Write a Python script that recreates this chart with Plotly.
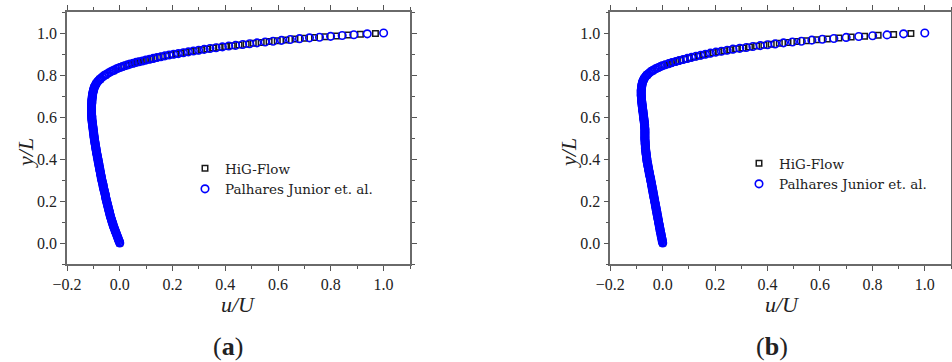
import plotly.graph_objects as go

# ---------------- Panel (a) ----------------
u_a_pal = [1.000, 0.938, 0.887, 0.843, 0.799, 0.757, 0.719, 0.681, 0.646, 0.613,
           0.581, 0.551, 0.520, 0.492, 0.466, 0.439, 0.413, 0.389, 0.365, 0.342,
           0.320, 0.299, 0.279, 0.260, 0.241, 0.222, 0.204, 0.187, 0.171, 0.156,
           0.141, 0.127, 0.113, 0.099, 0.086, 0.073, 0.062, 0.051, 0.039, 0.029,
           0.019, 0.010, 0.001,
           -0.007, -0.014, -0.021, -0.027, -0.035, -0.042, -0.049, -0.055, -0.061, -0.066,
           -0.071, -0.075, -0.079, -0.083, -0.086, -0.089, -0.091, -0.093, -0.095, -0.097,
           -0.098, -0.099, -0.100, -0.101,
           -0.102, -0.103, -0.103, -0.104, -0.104, -0.105, -0.105, -0.106, -0.106, -0.106,
           -0.106, -0.107, -0.107, -0.107, -0.107, -0.107, -0.107, -0.107, -0.107, -0.107,
           -0.107, -0.107, -0.106, -0.106, -0.106, -0.106, -0.105, -0.105, -0.104, -0.104,
           -0.103, -0.103, -0.102, -0.102, -0.101, -0.101, -0.100, -0.100, -0.099, -0.099,
           -0.098, -0.098, -0.097, -0.097, -0.096, -0.096, -0.095, -0.094, -0.094, -0.093,
           -0.092, -0.092, -0.091, -0.090, -0.090, -0.089, -0.088, -0.088, -0.087, -0.086,
           -0.085, -0.085, -0.084, -0.083, -0.082, -0.082, -0.081, -0.080, -0.079, -0.079,
           -0.078, -0.077, -0.076, -0.076, -0.075, -0.074, -0.073, -0.073, -0.072, -0.071,
           -0.070, -0.070, -0.069, -0.068, -0.067, -0.066, -0.065, -0.064, -0.063, -0.063,
           -0.062, -0.061, -0.060, -0.059, -0.058, -0.057, -0.056, -0.055, -0.054, -0.054,
           -0.053, -0.052, -0.051, -0.050, -0.049, -0.048, -0.047, -0.046, -0.045, -0.044,
           -0.043, -0.042, -0.041, -0.040, -0.039, -0.038, -0.037, -0.036, -0.035, -0.034,
           -0.032, -0.031, -0.030, -0.029, -0.027, -0.026, -0.025, -0.024, -0.022, -0.021,
           -0.019, -0.018, -0.016, -0.015, -0.013, -0.012, -0.010, -0.009, -0.007, -0.006,
           -0.004, -0.003, -0.001, 0.000]
y_a_pal = [1.000, 0.996, 0.992, 0.988, 0.984, 0.980, 0.977, 0.973, 0.969, 0.965,
           0.961, 0.957, 0.953, 0.949, 0.945, 0.941, 0.938, 0.934, 0.930, 0.926,
           0.922, 0.918, 0.914, 0.910, 0.906, 0.902, 0.899, 0.895, 0.891, 0.887,
           0.883, 0.879, 0.875, 0.871, 0.867, 0.863, 0.860, 0.856, 0.852, 0.848,
           0.844, 0.840, 0.836,
           0.832, 0.828, 0.824, 0.820, 0.815, 0.810, 0.805, 0.800, 0.795, 0.790,
           0.785, 0.780, 0.775, 0.770, 0.765, 0.760, 0.755, 0.750, 0.745, 0.740,
           0.735, 0.730, 0.725, 0.720,
           0.715, 0.710, 0.705, 0.700, 0.695, 0.690, 0.685, 0.680, 0.675, 0.670,
           0.665, 0.660, 0.655, 0.650, 0.645, 0.640, 0.635, 0.630, 0.625, 0.620,
           0.615, 0.610, 0.605, 0.600, 0.595, 0.590, 0.585, 0.580, 0.575, 0.570,
           0.565, 0.560, 0.555, 0.550, 0.545, 0.540, 0.535, 0.530, 0.525, 0.520,
           0.515, 0.510, 0.505, 0.500, 0.495, 0.490, 0.485, 0.480, 0.475, 0.470,
           0.465, 0.460, 0.455, 0.450, 0.445, 0.440, 0.435, 0.430, 0.425, 0.420,
           0.415, 0.410, 0.405, 0.400, 0.395, 0.390, 0.385, 0.380, 0.375, 0.370,
           0.365, 0.360, 0.355, 0.350, 0.345, 0.340, 0.335, 0.330, 0.325, 0.320,
           0.315, 0.310, 0.305, 0.300, 0.295, 0.290, 0.285, 0.280, 0.275, 0.270,
           0.265, 0.260, 0.255, 0.250, 0.245, 0.240, 0.235, 0.230, 0.225, 0.220,
           0.215, 0.210, 0.205, 0.200, 0.195, 0.190, 0.185, 0.180, 0.175, 0.170,
           0.165, 0.160, 0.155, 0.150, 0.145, 0.140, 0.135, 0.130, 0.125, 0.120,
           0.115, 0.110, 0.105, 0.100, 0.095, 0.090, 0.085, 0.080, 0.075, 0.070,
           0.065, 0.060, 0.055, 0.050, 0.045, 0.040, 0.035, 0.030, 0.025, 0.020,
           0.015, 0.010, 0.005, 0.000]

u_a_hig = [0.969, 0.912, 0.865, 0.821, 0.778, 0.738, 0.700, 0.664, 0.630, 0.597,
           0.566, 0.536, 0.506, 0.479, 0.452, 0.426, 0.401, 0.377, 0.354, 0.331,
           0.310, 0.289, 0.270, 0.251, 0.232, 0.213, 0.196, 0.179, 0.164, 0.149,
           0.134, 0.120, 0.106, 0.093, 0.080, 0.068, 0.057, 0.045, 0.034, 0.024,
           0.015, 0.006,
           -0.025, -0.055, -0.075, -0.089, -0.097, -0.101, -0.104, -0.107, -0.107, -0.105,
           -0.101, -0.097, -0.092, -0.086, -0.080, -0.074, -0.068, -0.061, -0.054, -0.046,
           -0.038, -0.029, -0.018, -0.006, 0.000]
y_a_hig = [0.998, 0.994, 0.990, 0.986, 0.982, 0.978, 0.975, 0.971, 0.967, 0.963,
           0.959, 0.955, 0.951, 0.947, 0.943, 0.939, 0.936, 0.932, 0.928, 0.924,
           0.920, 0.916, 0.912, 0.908, 0.904, 0.900, 0.897, 0.893, 0.889, 0.885,
           0.881, 0.877, 0.873, 0.869, 0.865, 0.861, 0.858, 0.854, 0.850, 0.846,
           0.842, 0.838,
           0.820, 0.800, 0.780, 0.760, 0.740, 0.720, 0.700, 0.660, 0.620, 0.580,
           0.540, 0.500, 0.460, 0.420, 0.380, 0.340, 0.300, 0.260, 0.220, 0.180,
           0.140, 0.100, 0.060, 0.020, 0.000]

# ---------------- Panel (b) ----------------
u_b_pal = [1.000, 0.919, 0.856, 0.801, 0.748, 0.700, 0.653, 0.609, 0.569, 0.529,
           0.495, 0.461, 0.429, 0.400, 0.372, 0.344, 0.319, 0.294, 0.268, 0.246,
           0.224, 0.203, 0.182, 0.163, 0.145, 0.127, 0.110, 0.094, 0.078, 0.063,
           0.050, 0.035, 0.023, 0.010, -0.001,
           -0.009, -0.016, -0.023, -0.029, -0.035, -0.040, -0.046, -0.051, -0.056, -0.060,
           -0.064, -0.067, -0.070, -0.072, -0.074, -0.076, -0.077,
           -0.078, -0.079, -0.080, -0.080, -0.081, -0.081, -0.082, -0.082, -0.082, -0.082,
           -0.082, -0.082, -0.082, -0.081, -0.081, -0.081, -0.081, -0.080, -0.080, -0.079,
           -0.079, -0.078, -0.078, -0.077, -0.077, -0.076, -0.076, -0.075, -0.075, -0.074,
           -0.074, -0.073, -0.073, -0.072, -0.072, -0.071, -0.071, -0.070, -0.070, -0.069,
           -0.069, -0.069, -0.069, -0.068, -0.068, -0.068, -0.068, -0.068, -0.068, -0.068,
           -0.068, -0.068, -0.068, -0.068, -0.068, -0.067, -0.067, -0.067, -0.067, -0.066,
           -0.066, -0.066, -0.066, -0.065, -0.065, -0.064, -0.064, -0.063, -0.063, -0.062,
           -0.062, -0.061, -0.061, -0.060, -0.060, -0.059, -0.058, -0.057, -0.057, -0.056,
           -0.055, -0.054, -0.054, -0.053, -0.052, -0.051, -0.051, -0.050, -0.049, -0.048,
           -0.047, -0.046, -0.046, -0.045, -0.044, -0.043, -0.043, -0.042, -0.041, -0.040,
           -0.040, -0.039, -0.038, -0.037, -0.037, -0.036, -0.035, -0.034, -0.034, -0.033,
           -0.032, -0.031, -0.031, -0.030, -0.029, -0.028, -0.028, -0.027, -0.026, -0.025,
           -0.025, -0.024, -0.023, -0.022, -0.022, -0.021, -0.020, -0.019, -0.019, -0.018,
           -0.017, -0.016, -0.016, -0.015, -0.014, -0.013, -0.013, -0.012, -0.011, -0.010,
           -0.010, -0.009, -0.008, -0.007, -0.006, -0.006, -0.005, -0.004, -0.003, -0.002,
           -0.002, -0.001, 0.000]
y_b_pal = [1.000, 0.996, 0.991, 0.987, 0.983, 0.979, 0.974, 0.970, 0.966, 0.961,
           0.957, 0.953, 0.948, 0.944, 0.940, 0.936, 0.931, 0.927, 0.923, 0.918,
           0.913, 0.909, 0.904, 0.899, 0.894, 0.889, 0.884, 0.879, 0.874, 0.869,
           0.864, 0.859, 0.854, 0.849, 0.844,
           0.840, 0.836, 0.832, 0.828, 0.824, 0.820, 0.815, 0.810, 0.805, 0.800,
           0.795, 0.790, 0.785, 0.780, 0.775, 0.770, 0.765,
           0.760, 0.755, 0.750, 0.745, 0.740, 0.735, 0.730, 0.725, 0.720, 0.715,
           0.710, 0.705, 0.700, 0.695, 0.690, 0.685, 0.680, 0.675, 0.670, 0.665,
           0.660, 0.655, 0.650, 0.645, 0.640, 0.635, 0.630, 0.625, 0.620, 0.615,
           0.610, 0.605, 0.600, 0.595, 0.590, 0.585, 0.580, 0.575, 0.570, 0.565,
           0.560, 0.555, 0.550, 0.545, 0.540, 0.535, 0.530, 0.525, 0.520, 0.515,
           0.510, 0.505, 0.500, 0.495, 0.490, 0.485, 0.480, 0.475, 0.470, 0.465,
           0.460, 0.455, 0.450, 0.445, 0.440, 0.435, 0.430, 0.425, 0.420, 0.415,
           0.410, 0.405, 0.400, 0.395, 0.390, 0.385, 0.380, 0.375, 0.370, 0.365,
           0.360, 0.355, 0.350, 0.345, 0.340, 0.335, 0.330, 0.325, 0.320, 0.315,
           0.310, 0.305, 0.300, 0.295, 0.290, 0.285, 0.280, 0.275, 0.270, 0.265,
           0.260, 0.255, 0.250, 0.245, 0.240, 0.235, 0.230, 0.225, 0.220, 0.215,
           0.210, 0.205, 0.200, 0.195, 0.190, 0.185, 0.180, 0.175, 0.170, 0.165,
           0.160, 0.155, 0.150, 0.145, 0.140, 0.135, 0.130, 0.125, 0.120, 0.115,
           0.110, 0.105, 0.100, 0.095, 0.090, 0.085, 0.080, 0.075, 0.070, 0.065,
           0.060, 0.055, 0.050, 0.045, 0.040, 0.035, 0.030, 0.025, 0.020, 0.015,
           0.010, 0.005, 0.000]

u_b_hig = [0.947, 0.881, 0.822, 0.770, 0.719, 0.672, 0.628, 0.588, 0.549, 0.512,
           0.478, 0.445, 0.414, 0.386, 0.358, 0.331, 0.306, 0.281, 0.257, 0.235,
           0.213, 0.192, 0.172, 0.154, 0.136, 0.118, 0.102, 0.086, 0.070, 0.056,
           0.042, 0.029, 0.016, 0.004,
           -0.040, -0.060, -0.072, -0.078, -0.081, -0.082, -0.081, -0.079, -0.075, -0.071,
           -0.068, -0.068, -0.066, -0.063, -0.058, -0.052, -0.046, -0.040, -0.034, -0.028,
           -0.022, -0.016, -0.010, -0.003, 0.000]
y_b_hig = [0.998, 0.993, 0.989, 0.985, 0.981, 0.976, 0.972, 0.968, 0.963, 0.959,
           0.955, 0.951, 0.946, 0.942, 0.938, 0.933, 0.929, 0.925, 0.920, 0.916,
           0.911, 0.906, 0.901, 0.896, 0.891, 0.886, 0.881, 0.876, 0.871, 0.866,
           0.861, 0.856, 0.851, 0.846,
           0.820, 0.800, 0.780, 0.760, 0.740, 0.720, 0.680, 0.640, 0.600, 0.580,
           0.540, 0.500, 0.460, 0.420, 0.380, 0.340, 0.300, 0.260, 0.220, 0.180,
           0.140, 0.100, 0.060, 0.020, 0.000]

x_ticks = [-0.2, 0.0, 0.2, 0.4, 0.6, 0.8, 1.0]
y_ticks = [0.0, 0.2, 0.4, 0.6, 0.8, 1.0]
names = ["HiG-Flow", "Palhares Junior et. al."]
x_title = "<i>u/U</i>"
y_title = "<i>y/L</i>"
panel_labels = ["(<b>a</b>)", "(<b>b</b>)"]

SERIF = "Liberation Serif"
W, H = 952, 362

sq_marker = dict(symbol="square-open", size=5.5, color="#1a1a1a", line=dict(width=1.5))
ci_marker = dict(symbol="circle-open", size=7.5, color="#0000ff", line=dict(width=1.6))

fig = go.Figure()
fig.add_trace(go.Scatter(x=u_a_hig, y=y_a_hig, mode="markers", name=names[0], marker=sq_marker,
                         xaxis="x", yaxis="y", legend="legend"))
fig.add_trace(go.Scatter(x=u_a_pal, y=y_a_pal, mode="markers", name=names[1], marker=ci_marker,
                         xaxis="x", yaxis="y", legend="legend"))
fig.add_trace(go.Scatter(x=u_b_hig, y=y_b_hig, mode="markers", name=names[0], marker=sq_marker,
                         xaxis="x2", yaxis="y2", legend="legend2"))
fig.add_trace(go.Scatter(x=u_b_pal, y=y_b_pal, mode="markers", name=names[1], marker=ci_marker,
                         xaxis="x2", yaxis="y2", legend="legend2"))


def ax(rng, ticks, domain, anchor):
    return dict(
        domain=domain, range=rng, anchor=anchor, automargin=False,
        tickvals=ticks, ticktext=[("\u2212" if t < 0 else "") + f"{abs(t):.1f}" for t in ticks],
        showline=True, linecolor="#6a6a6a", linewidth=1.5, mirror="allticks",
        ticks="outside", ticklen=5, tickwidth=1.3, tickcolor="#555",
        minor=dict(tickvals=[round(-0.2 + 0.1 * k, 1) for k in range(14)], ticks="outside",
                   ticklen=3, tickwidth=1.1, tickcolor="#555"),
        showgrid=False, zeroline=False,
        tickfont=dict(family=SERIF, size=16, color="#222"),
    )


xd_a = [67 / W, 410 / W]
xd_b = [610.3 / W, 951 / W]
yd = [1 - 264 / H, 1 - 12 / H]

leg_font = dict(family="DejaVu Serif", size=13.5, color="#222")
title_font = dict(family=SERIF, size=22, color="#222")


def note(text, px, py, font, angle=0):
    return dict(text=text, x=px / W, y=1 - py / H, xref="paper", yref="paper",
                xanchor="center", yanchor="middle", textangle=angle,
                showarrow=False, font=font)


fig.update_layout(
    width=W, height=H, margin=dict(l=0, r=0, t=0, b=0, autoexpand=False),
    paper_bgcolor="white", plot_bgcolor="white",
    xaxis=ax([-0.2, 1.1], x_ticks, xd_a, "y"),
    yaxis=ax([-0.1, 1.1], y_ticks, yd, "x"),
    xaxis2=ax([-0.2, 1.1], x_ticks, xd_b, "y2"),
    yaxis2=ax([-0.1, 1.1], y_ticks, yd, "x2"),
    legend=dict(x=185 / W, y=1 - 153 / H, xanchor="left", yanchor="top",
                bgcolor="rgba(0,0,0,0)", font=leg_font, itemclick=False),
    legend2=dict(x=739 / W, y=1 - 148 / H, xanchor="left", yanchor="top",
                 bgcolor="rgba(0,0,0,0)", font=leg_font, itemclick=False),
    annotations=[
        note(x_title, 238, 304, title_font),
        note(x_title, 782, 304, title_font),
        note(y_title, 25, 153, title_font, -90),
        note(y_title, 568, 153, title_font, -90),
        note(panel_labels[0], 228, 346, dict(family=SERIF, size=26, color="#222")),
        note(panel_labels[1], 772, 346, dict(family=SERIF, size=26, color="#222")),
    ],
)

fig.write_html("out.html")
